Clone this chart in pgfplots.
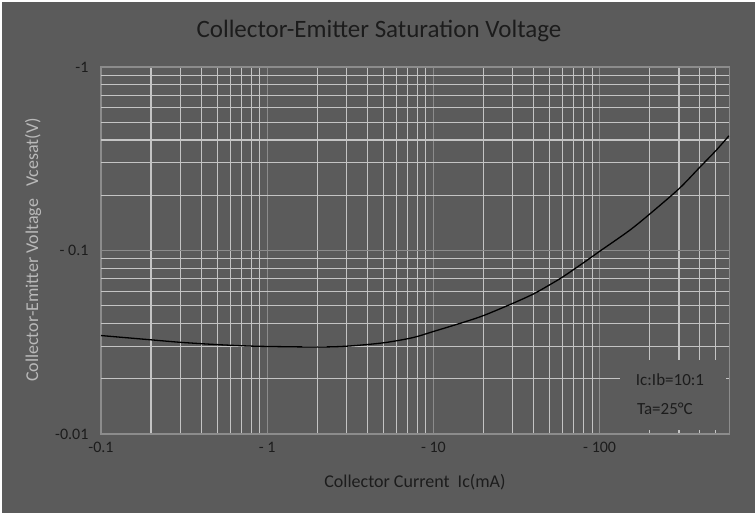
\documentclass[border=0pt]{standalone}
\usepackage{fontspec}
\setmainfont{Carlito}
\usepackage{pgfplots}
\pgfplotsset{compat=1.18}
\definecolor{bg}{RGB}{91,91,91}
\definecolor{majgrid}{RGB}{140,140,140}
\definecolor{mingrid}{RGB}{196,196,196}
\definecolor{darktxt}{RGB}{28,28,28}
\definecolor{lighttxt}{RGB}{185,185,185}
\begin{document}
\begin{tikzpicture}[x=1pt,y=1pt]
\fill[white] (0,0) rectangle (755,513);
\fill[bg] (2,0) rectangle (755,511);
\begin{axis}[
  at={(101pt,79pt)}, anchor=south west,
  scale only axis,
  width=628pt, height=367pt,
  xmode=log, ymode=log,
  xmin=0.1, xmax=600,
  ymin=0.01, ymax=1,
  axis background/.style={fill=bg},
  axis line style={majgrid, line width=1pt},
  grid=both,
  major grid style={majgrid, line width=1.1pt},
  minor grid style={mingrid, line width=1.1pt},
  xtick={0.1,1,10,100},
  xticklabels={-0.1,- 1,- 10,- 100},
  ytick={0.01,0.1,1},
  yticklabels={-0.01,- 0.1,-1},
  minor xtick={0.2,0.3,0.4,0.5,0.6,0.7,0.8,0.9,2,3,4,5,6,7,8,9,20,30,40,50,60,70,80,90,200,300,400,500},
  minor ytick={0.02,0.03,0.04,0.05,0.06,0.07,0.08,0.09,0.2,0.3,0.4,0.5,0.6,0.7,0.8,0.9},
  major tick length=0pt, minor tick length=0pt,
  tick label style={font=\fontsize{16}{18}\selectfont, text=darktxt},
  xticklabel style={yshift=-5pt},
  yticklabel style={xshift=-9pt},
  /pgf/number format/assume math mode=true,
  clip=true,
]
\addplot[black, line width=1.3pt, smooth] table {
x y
0.1 0.0344
0.2 0.0326
0.3 0.0316
0.5 0.0307
0.75 0.0302
1 0.0300
2 0.0298
3 0.0301
5 0.0314
7.5 0.0335
10 0.0362
15 0.0405
20 0.0442
30 0.0515
40 0.0580
50 0.0650
60 0.0718
80 0.0858
100 0.0990
150 0.128
200 0.158
300 0.217
400 0.284
500 0.350
600 0.422
};
\fill[bg] (axis cs:133,0.0105) rectangle (axis cs:577,0.0253);
\node[text=darktxt, font=\fontsize{17}{19}\selectfont] at (axis cs:265,0.0199) {Ic:Ib=10:1};
\node[text=darktxt, font=\fontsize{17}{19}\selectfont] at (axis cs:247,0.0137) {Ta=25°C};
\end{axis}
\node[text=darktxt, font=\fontsize{25}{28}\selectfont] at (379,482) {Collector-Emitter Saturation Voltage};
\node[text=darktxt, font=\fontsize{18}{20}\selectfont] at (415,31) {Collector Current\ \ Ic(mA)};
\node[text=lighttxt, font=\fontsize{18}{20}\selectfont, rotate=90] at (33,263) {Collector-Emitter Voltage\ \ \ Vcesat(V)};
\pgfresetboundingbox
\useasboundingbox (0,0) rectangle (755,513);
\end{tikzpicture}
\end{document}
